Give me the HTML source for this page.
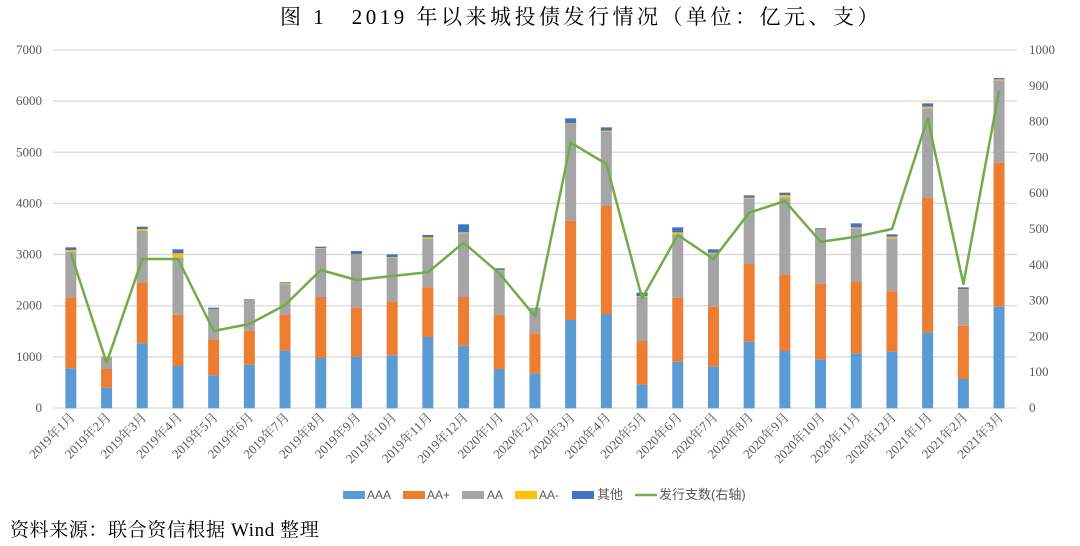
<!DOCTYPE html>
<html><head><meta charset="utf-8"><style>
body{margin:0;background:#fff;}
svg{display:block;}
.ax{font-family:"Liberation Serif","Noto Serif CJK SC",serif;font-size:13px;fill:#595959;}
.lg{font-family:"Liberation Sans","Noto Sans CJK SC",sans-serif;font-size:12px;fill:#595959;}
</style></head><body>
<svg id="c" width="1080" height="546" xmlns="http://www.w3.org/2000/svg">
<text x="280" y="24" font-family="'Liberation Serif','Noto Serif CJK SC',serif" font-size="21" letter-spacing="3.5" fill="#000">图 1　2019 年以来城投债发行情况（单位：亿元、支）</text>
<g id="grid"></g><g id="bars"></g><g id="line"></g><g id="labs"></g>
<g class="lg">
<rect x="343" y="491" width="22" height="8" fill="#5B9BD5"/><text x="367" y="499">AAA</text>
<rect x="403" y="491" width="22" height="8" fill="#ED7D31"/><text x="427" y="499">AA+</text>
<rect x="462" y="491" width="22" height="8" fill="#A5A5A5"/><text x="487" y="499">AA</text>
<rect x="515" y="491" width="22" height="8" fill="#FFC000"/><text x="539" y="499">AA-</text>
<rect x="572" y="491" width="22" height="8" fill="#4472C4"/><text x="597" y="499" font-size="13">其他</text>
<line x1="635" y1="495" x2="657" y2="495" stroke="#70AD47" stroke-width="2.5"/><text x="659" y="499" font-size="13">发行支数(右轴)</text>
</g>
<text x="10" y="536" font-family="'Liberation Serif','Noto Serif CJK SC',serif" font-size="19" letter-spacing="0.6" fill="#000">资料来源：联合资信根据 Wind 整理</text>
</svg>
<script>
var NS="http://www.w3.org/2000/svg";
function el(p,t,a,txt){var e=document.createElementNS(NS,t);for(var k in a)e.setAttribute(k,a[k]);if(txt!=null)e.textContent=txt;document.getElementById(p).appendChild(e);return e;}
var y0=408,yT=50;
for(var i=0;i<=7;i++){var y=y0-(y0-yT)*i/7;
el('grid','line',{x1:53,x2:1017,y1:y,y2:y,stroke:'#d9d9d9','stroke-width':1.3});
el('labs','text',{x:42,y:y+4,'text-anchor':'end','class':'ax'},String(i*1000));}
for(var i=0;i<=10;i++){var y=y0-(y0-yT)*i/10;
el('labs','text',{x:1029,y:y+4,'class':'ax'},String(i*100));}
var D=[[985,772,635,630,622,640],[1043,987,950,950,950,968],[910,727,572,567,560,657],[978,824,652,640,628,657],
[1006,898,810,808,803,873],[974,872,780,780,778,852],[932,824,733,730,727,795],[954,771,626,624,620,690],
[950,803,645,643,633,720],[946,785,652,651,643,708],[891,742,597,592,585,697],[917,771,580,577,553,608],
[987,824,692,690,685,700],[1000,880,803,803,803,829],[840,542,252,250,235,308],[822,498,275,272,262,372],
[1033,903,770,768,758,775],[965,773,583,577,562,585],[980,800,640,638,628,657],[905,672,475,473,466,518],
[933,703,472,465,458,483],[958,731,567,566,564,605],[940,726,565,562,550,590],[935,754,595,590,583,567],
[877,473,205,200,190,235],[1017,857,750,748,742,732],[800,368,121,118,114,152]];
var cols=['#5B9BD5','#ED7D31','#A5A5A5','#FFC000','#4472C4'];
var labels=[];for(var m=1;m<=12;m++)labels.push('2019年'+m+'月');for(var m=1;m<=12;m++)labels.push('2020年'+m+'月');for(var m=1;m<=3;m++)labels.push('2021年'+m+'月');
var pts=[];
D.forEach(function(d,i){var cx=53+35.7*(i+0.5);var prev=1105;
for(var k=0;k<5;k++){var top=d[k];if(prev-top>0){el('bars','rect',{x:cx-5.5,y:40+top/3,width:11,height:(prev-top)/3,fill:cols[k]});}prev=top;}
pts.push(cx.toFixed(1)+','+(40+d[5]/3).toFixed(1));
el('labs','text',{'class':'ax','text-anchor':'end',transform:'translate('+(cx+5)+',418) rotate(-45)'},labels[i]);});
el('line','polyline',{points:pts.join(' '),fill:'none',stroke:'#70AD47','stroke-width':2.5,'stroke-linejoin':'round'});
</script>
</body></html>
